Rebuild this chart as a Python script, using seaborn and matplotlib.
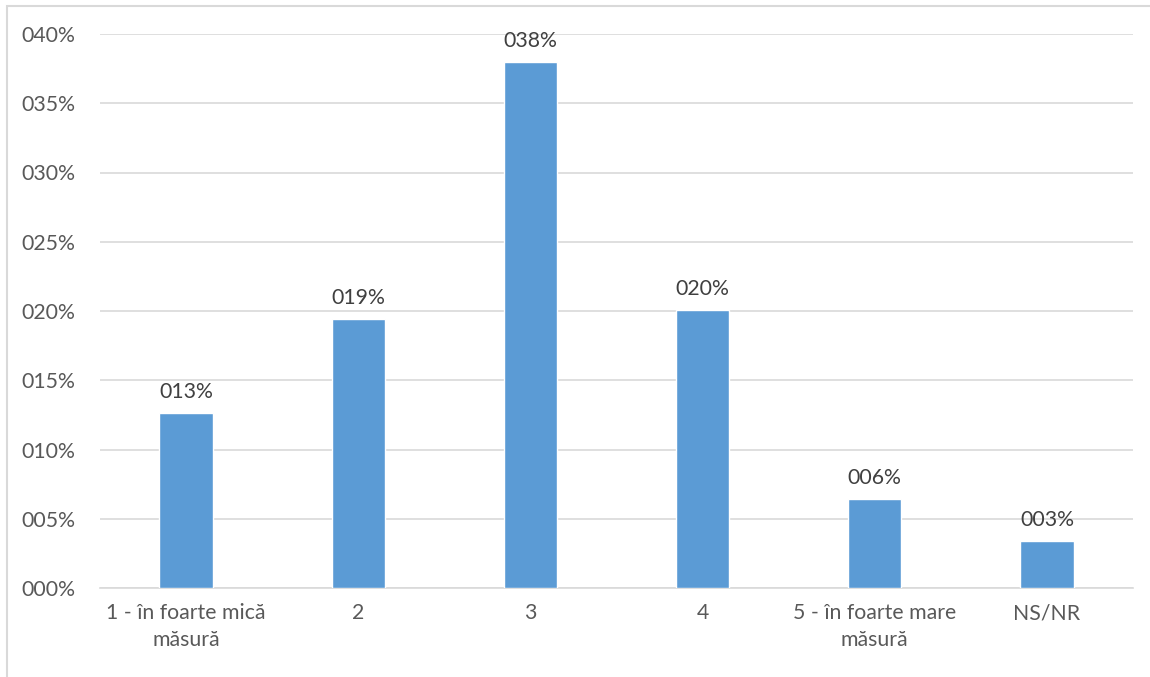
import matplotlib
matplotlib.use("Agg")
import matplotlib.pyplot as plt
import seaborn as sns
import pandas as pd
from matplotlib.patches import Rectangle

categories = ["1 - în foarte mică\nmăsură", "2", "3", "4", "5 - în foarte mare\nmăsură", "NS/NR"]
values = [0.126, 0.194, 0.380, 0.201, 0.064, 0.034]
yticks = [0.0, 0.05, 0.10, 0.15, 0.20, 0.25, 0.30, 0.35, 0.40]

sns.set_theme(style="white")
plt.rcParams['font.family'] = ['Lato', 'DejaVu Sans']

df = pd.DataFrame({"cat": categories, "val": values})

fig = plt.figure(figsize=(11.5, 6.77), dpi=100)
ax = fig.add_axes([100 / 1150, 1 - 588 / 677, 1033 / 1150, 554 / 677])

sns.barplot(data=df, x="cat", y="val", color="#5B9BD5", width=0.31, saturation=1, ax=ax, zorder=3)

txt = "#595959"
fs = 15.3
ax.set_ylim(0, 0.40)
ax.set_xlim(-0.5, len(categories) - 0.5)
ax.set_yticks(yticks)
ax.set_yticklabels([f"{t * 100:03.0f}%" for t in yticks], color=txt, fontsize=fs)
ax.tick_params(axis="x", colors=txt, labelsize=fs, length=0, pad=11)
ax.tick_params(axis="y", length=0, pad=18)
for lab in ax.get_xticklabels():
    lab.set_linespacing(1.4)
    lab.set_verticalalignment("top")
ax.set_xlabel("")
ax.set_ylabel("")
ax.yaxis.grid(True, color="#D9D9D9", linewidth=1.2, zorder=0)
for s in ["top", "right", "left"]:
    ax.spines[s].set_visible(False)
ax.spines["bottom"].set_color("#D9D9D9")
ax.spines["bottom"].set_linewidth(1.2)

for i, v in enumerate(values):
    ax.annotate(f"{v * 100:03.0f}%", (i, v), xytext=(0, 8), textcoords="offset points",
                ha="center", va="bottom", color="#404040", fontsize=fs)

fig.patches.append(Rectangle((7 / 1150, -0.05), 1.1, 1 - 6 / 677 + 0.05, transform=fig.transFigure,
                             fill=False, edgecolor="#D9D9D9", linewidth=1.5))

fig.savefig("out.png", dpi=100)
